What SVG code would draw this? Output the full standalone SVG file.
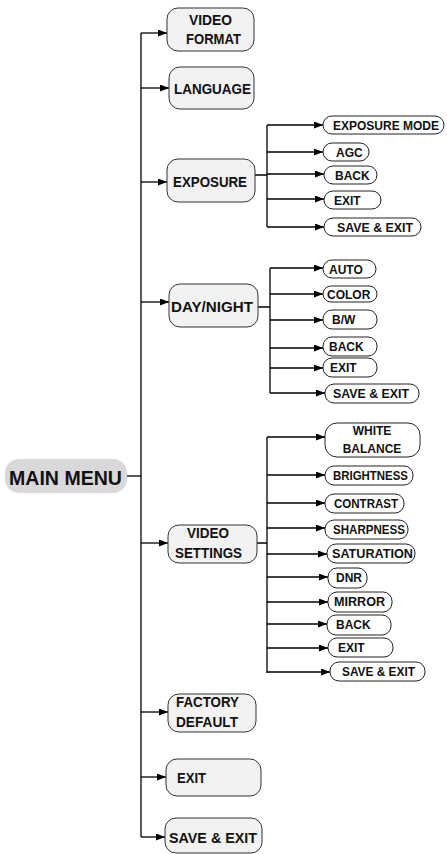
<svg xmlns="http://www.w3.org/2000/svg" width="447" height="854" viewBox="0 0 447 854">
<defs>
<marker id="ah" markerUnits="userSpaceOnUse" markerWidth="9" markerHeight="7" refX="9" refY="3.5" orient="auto">
<path d="M0,0 L9,3.5 L0,7 z" fill="#000"/>
</marker>
<style>
text{font-family:"Liberation Sans",Arial,sans-serif;font-weight:bold;fill:#111}
.m{fill:#f2f2f2;stroke:#333;stroke-width:1}
.s{fill:#fff;stroke:#222;stroke-width:1}
.mt{font-size:15px}
.st{font-size:12px}
.c{text-anchor:middle}
.ln{fill:none;stroke:#000;stroke-width:1.3}
.ar{fill:none;stroke:#000;stroke-width:1.3;marker-end:url(#ah)}
</style>
</defs>
<g id="connectors">
<path class="ln" d="M141,33 V837"/>
<path class="ln" d="M127,476 H141"/>
<path class="ar" d="M141,33 H167"/>
<path class="ar" d="M141,88 H169"/>
<path class="ar" d="M141,182 H167"/>
<path class="ar" d="M141,302 H169"/>
<path class="ar" d="M141,543 H168"/>
<path class="ar" d="M141,712 H168"/>
<path class="ar" d="M141,777 H166"/>
<path class="ar" d="M141,837 H165"/>
<path class="ln" d="M255,175 H267 M267,125 V227"/>
<path class="ar" d="M267,125 H323"/>
<path class="ar" d="M267,152 H323"/>
<path class="ar" d="M267,174 H324"/>
<path class="ar" d="M267,199 H324"/>
<path class="ar" d="M267,227 H324"/>
<path class="ln" d="M258,307 H270 M270,268 V393"/>
<path class="ar" d="M270,268 H323"/>
<path class="ar" d="M270,294 H323"/>
<path class="ar" d="M270,320 H323"/>
<path class="ar" d="M270,348 H323"/>
<path class="ar" d="M270,368 H323"/>
<path class="ar" d="M270,393 H325"/>
<path class="ln" d="M257,543 H267 M267,437 V673"/>
<path class="ar" d="M267,437 H325"/>
<path class="ar" d="M267,475 H325"/>
<path class="ar" d="M267,503 H325"/>
<path class="ar" d="M267,528 H325"/>
<path class="ar" d="M267,554 H327"/>
<path class="ar" d="M267,577 H328"/>
<path class="ar" d="M267,602 H328"/>
<path class="ar" d="M267,624 H327"/>
<path class="ar" d="M267,648 H328"/>
<path class="ar" d="M267,672 H330"/>
</g>
<g id="main-menu">
<rect x="5" y="459" width="122" height="34" rx="14" fill="#d9d9d9"/>
<text x="9" y="485" font-size="19.5px" textLength="113" lengthAdjust="spacingAndGlyphs">MAIN MENU</text>
</g>
<g id="video-format">
<rect class="m" x="167" y="8" width="87" height="43" rx="11"/>
<text class="mt" x="189" y="25" textLength="43" lengthAdjust="spacingAndGlyphs">VIDEO</text>
<text class="mt" x="186" y="44" textLength="55" lengthAdjust="spacingAndGlyphs">FORMAT</text>
</g>
<g id="language">
<rect class="m" x="169" y="67" width="85" height="42" rx="11"/>
<text class="mt" x="174" y="94" textLength="77" lengthAdjust="spacingAndGlyphs">LANGUAGE</text>
</g>
<g id="exposure">
<rect class="m" x="167" y="159" width="88" height="43" rx="11"/>
<text class="mt" x="173" y="187" textLength="74" lengthAdjust="spacingAndGlyphs">EXPOSURE</text>
</g>
<g id="day-night">
<rect class="m" x="169" y="284" width="89" height="43" rx="11"/>
<text class="mt" x="171" y="312" textLength="82" lengthAdjust="spacingAndGlyphs">DAY/NIGHT</text>
</g>
<g id="video-settings">
<rect class="m" x="168" y="525" width="89" height="38" rx="11"/>
<text class="mt" x="187" y="538" textLength="42" lengthAdjust="spacingAndGlyphs">VIDEO</text>
<text class="mt" x="175" y="558" textLength="67" lengthAdjust="spacingAndGlyphs">SETTINGS</text>
</g>
<g id="factory-default">
<rect class="m" x="168" y="694" width="88" height="38" rx="11"/>
<text class="mt" x="176" y="707" textLength="63" lengthAdjust="spacingAndGlyphs">FACTORY</text>
<text class="mt" x="176" y="727" textLength="62" lengthAdjust="spacingAndGlyphs">DEFAULT</text>
</g>
<g id="exit">
<rect class="m" x="166" y="759" width="95" height="37" rx="11"/>
<text class="mt" x="177" y="783" textLength="29" lengthAdjust="spacingAndGlyphs">EXIT</text>
</g>
<g id="save-exit">
<rect class="m" x="165" y="818" width="97" height="35" rx="11"/>
<text class="mt" x="169" y="843" textLength="88" lengthAdjust="spacingAndGlyphs">SAVE &amp; EXIT</text>
</g>
<g id="exp-mode"><rect class="s" x="323" y="116" width="121" height="18" rx="9"/><text class="st" x="333" y="129.5" textLength="106" lengthAdjust="spacingAndGlyphs">EXPOSURE MODE</text></g>
<g id="exp-agc"><rect class="s" x="323" y="143" width="46" height="18" rx="9"/><text class="st" x="336" y="156.5">AGC</text></g>
<g id="exp-back"><rect class="s" x="324" y="166" width="53" height="18" rx="9"/><text class="st" x="335" y="179.5">BACK</text></g>
<g id="exp-exit"><rect class="s" x="324" y="191" width="57" height="18" rx="9"/><text class="st" x="334" y="204.5">EXIT</text></g>
<g id="exp-save"><rect class="s" x="324" y="218" width="97" height="18" rx="9"/><text class="st" x="337" y="231.5" textLength="76" lengthAdjust="spacingAndGlyphs">SAVE &amp; EXIT</text></g>
<g id="dn-auto"><rect class="s" x="323" y="260" width="53" height="18" rx="9"/><text class="st" x="329" y="273.5">AUTO</text></g>
<g id="dn-color"><rect class="s" x="323" y="286" width="54" height="16" rx="8"/><text class="st" x="327" y="298.5">COLOR</text></g>
<g id="dn-bw"><rect class="s" x="323" y="310" width="54" height="19" rx="9"/><text class="st" x="332" y="324">B/W</text></g>
<g id="dn-back"><rect class="s" x="323" y="337" width="54" height="19" rx="9"/><text class="st" x="329" y="351">BACK</text></g>
<g id="dn-exit"><rect class="s" x="323" y="358" width="54" height="19" rx="9"/><text class="st" x="330" y="372">EXIT</text></g>
<g id="dn-save"><rect class="s" x="325" y="384" width="94" height="19" rx="9"/><text class="st" x="333" y="398" textLength="76" lengthAdjust="spacingAndGlyphs">SAVE &amp; EXIT</text></g>
<g id="vs-wb"><rect class="s" x="325" y="423" width="95" height="34" rx="12"/><text class="st c" x="372" y="435">WHITE</text><text class="st c" x="372" y="453">BALANCE</text></g>
<g id="vs-bright"><rect class="s" x="325" y="466" width="88" height="19" rx="9"/><text class="st" x="333" y="480" textLength="75" lengthAdjust="spacingAndGlyphs">BRIGHTNESS</text></g>
<g id="vs-contrast"><rect class="s" x="325" y="494" width="79" height="19" rx="9"/><text class="st" x="334" y="508" textLength="64" lengthAdjust="spacingAndGlyphs">CONTRAST</text></g>
<g id="vs-sharp"><rect class="s" x="325" y="520" width="83" height="19" rx="9"/><text class="st" x="333" y="534" textLength="72" lengthAdjust="spacingAndGlyphs">SHARPNESS</text></g>
<g id="vs-sat"><rect class="s" x="327" y="544" width="88" height="19" rx="9"/><text class="st" x="332" y="558" textLength="81" lengthAdjust="spacingAndGlyphs">SATURATION</text></g>
<g id="vs-dnr"><rect class="s" x="328" y="568" width="39" height="20" rx="9"/><text class="st" x="336" y="582">DNR</text></g>
<g id="vs-mirror"><rect class="s" x="328" y="592" width="64" height="20" rx="9"/><text class="st" x="334" y="606" textLength="51" lengthAdjust="spacingAndGlyphs">MIRROR</text></g>
<g id="vs-back"><rect class="s" x="327" y="615" width="64" height="20" rx="9"/><text class="st" x="336" y="629">BACK</text></g>
<g id="vs-exit"><rect class="s" x="328" y="638" width="65" height="19" rx="9"/><text class="st" x="338" y="652">EXIT</text></g>
<g id="vs-save"><rect class="s" x="330" y="662" width="95" height="19" rx="9"/><text class="st" x="342" y="676" textLength="73" lengthAdjust="spacingAndGlyphs">SAVE &amp; EXIT</text></g>
</svg>
